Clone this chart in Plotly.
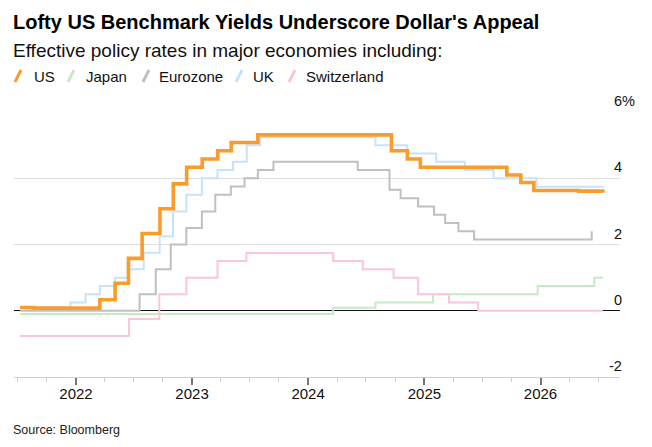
import plotly.graph_objects as go

# ---------------- data (step change points, effective policy rates %) ----------------
us_dates = ["2021-07-09", "2021-08-22", "2022-03-17", "2022-05-04", "2022-06-15", "2022-07-28",
            "2022-09-22", "2022-11-03", "2022-12-15", "2023-02-02", "2023-03-23", "2023-05-04",
            "2023-07-27", "2024-09-19", "2024-11-08", "2024-12-19", "2025-09-17", "2025-10-31",
            "2025-12-11", "2026-05-01", "2026-07-16"]
us_vals = [0.10, 0.08, 0.33, 0.83, 1.58, 2.33, 3.08, 3.83, 4.33, 4.58, 4.83, 5.08,
           5.31, 4.83, 4.58, 4.33, 4.10, 3.87, 3.63, 3.61, 3.57]

jp_dates = ["2021-07-09", "2024-03-20", "2024-07-31", "2025-01-28", "2025-12-23", "2026-06-19", "2026-07-16"]
jp_vals = [-0.10, 0.09, 0.25, 0.50, 0.75, 1.00, 1.00]

ez_dates = ["2021-07-09", "2022-07-20", "2022-09-09", "2022-10-26", "2022-12-14", "2023-02-01",
            "2023-03-15", "2023-05-03", "2023-06-15", "2023-07-27", "2023-09-14", "2024-06-05",
            "2024-09-13", "2024-10-18", "2024-12-12", "2025-01-31", "2025-03-07", "2025-04-18",
            "2025-06-06", "2026-06-11"]
ez_vals = [0.00, 0.50, 1.25, 2.00, 2.50, 3.00, 3.50, 3.75, 4.00, 4.25, 4.50, 4.25,
           3.65, 3.40, 3.15, 2.90, 2.65, 2.40, 2.15, 2.40]

uk_dates = ["2021-07-09", "2021-12-14", "2022-01-31", "2022-03-17", "2022-05-04", "2022-06-15",
            "2022-08-02", "2022-09-21", "2022-11-02", "2022-12-14", "2023-02-01", "2023-03-22",
            "2023-05-10", "2023-06-22", "2023-08-03", "2024-07-31", "2024-11-08", "2025-02-07",
            "2025-05-08", "2025-08-06", "2025-12-19", "2026-07-16"]
uk_vals = [0.10, 0.25, 0.50, 0.75, 1.00, 1.25, 1.75, 2.25, 3.00, 3.50, 4.00, 4.25,
           4.50, 5.00, 5.24, 5.00, 4.75, 4.50, 4.25, 4.00, 3.74, 3.73]

ch_dates = ["2021-07-09", "2022-06-17", "2022-09-20", "2022-12-14", "2023-03-22", "2023-06-21",
            "2024-03-20", "2024-06-21", "2024-09-26", "2024-12-12", "2025-03-19", "2025-06-19",
            "2026-07-16"]
ch_vals = [-0.76, -0.25, 0.50, 1.00, 1.50, 1.74, 1.50, 1.25, 1.00, 0.50, 0.25, 0.00, 0.00]

series_names = ["US", "Japan", "Eurozone", "UK", "Switzerland"]
y_ticks = [-2, 0, 2, 4, 6]
y_tick_text = ["-2", "0", "2", "4", "6%"]

# ---------------- styling ----------------
W, H = 652, 447
L, R, T, B = 14, 32, 112, 70
FONT = "Liberation Sans, Arial, sans-serif"
colors = {"US": "#fa9c2c", "Japan": "#c6e9c6", "Eurozone": "#c0c0c0",
          "UK": "#c6e3f9", "Switzerland": "#fbc5db"}
widths = {"US": 3.6, "Japan": 2, "Eurozone": 2, "UK": 2, "Switzerland": 2}


def px_x(x):
    return (x - L) / (W - L - R)


def px_y(y):
    return (H - B - y) / (H - T - B)


fig = go.Figure()
data = {"US": (us_dates, us_vals), "Japan": (jp_dates, jp_vals), "Eurozone": (ez_dates, ez_vals),
        "UK": (uk_dates, uk_vals), "Switzerland": (ch_dates, ch_vals)}
for name in ["Japan", "Switzerland", "Eurozone", "UK", "US"]:
    d, v = data[name]
    fig.add_trace(go.Scatter(x=d, y=v, mode="lines", name=name, line_shape="hv",
                             line=dict(color=colors[name], width=widths[name]),
                             showlegend=False, hoverinfo="skip"))

fig.update_layout(
    width=W, height=H, autosize=False,
    margin=dict(l=L, r=R, t=T, b=B, pad=0),
    paper_bgcolor="white", plot_bgcolor="white",
    font=dict(family=FONT, color="#000"),
    showlegend=False,
)
fig.update_xaxes(
    type="date", range=["2021-06-20", "2026-09-08"],
    tick0="2022-01-01", dtick="M12", tickformat="%Y",
    ticks="outside", ticklen=7, tickwidth=1.5, tickcolor="#777",
    tickfont=dict(size=15, family=FONT, color="#111"),
    ticklabelstandoff=-4,
    showline=True, linecolor="#cfcfcf", linewidth=1,
    showgrid=False, zeroline=False,
    minor=dict(dtick="M3", ticks="outside", ticklen=4, tickcolor="#cfcfcf", tickwidth=1, showgrid=False),
)
fig.update_yaxes(
    range=[-2, 6], tickvals=y_ticks, showticklabels=False,
    showgrid=True, gridcolor="#dedede", gridwidth=1,
    zeroline=True, zerolinecolor="#111", zerolinewidth=1,
    showline=False, ticks="",
)

ann = []
# y tick labels above gridlines at right
for v, t in zip(y_ticks, y_tick_text):
    ann.append(dict(x=px_x(612 if v >= 0 else 607), xref="paper", y=v, yref="y", text=t,
                    showarrow=False, xanchor="left", yanchor="middle", yshift=11,
                    font=dict(size=14.5, family=FONT, color="#111")))
# title, subtitle, source
ann.append(dict(x=px_x(11), y=px_y(22), xref="paper", yref="paper", showarrow=False,
                text="<b>Lofty US Benchmark Yields Underscore Dollar's Appeal</b>",
                xanchor="left", yanchor="middle", font=dict(size=20, family=FONT, color="#000")))
ann.append(dict(x=px_x(11), y=px_y(50), xref="paper", yref="paper", showarrow=False,
                text="Effective policy rates in major economies including:",
                xanchor="left", yanchor="middle", font=dict(size=19, family=FONT, color="#111")))
ann.append(dict(x=px_x(11), y=px_y(430), xref="paper", yref="paper", showarrow=False,
                text="Source: Bloomberg", xanchor="left", yanchor="middle",
                font=dict(size=12.5, family=FONT, color="#222")))

# custom legend: slanted swatches + labels
legend_pos = {"US": (15, 33), "Japan": (68, 85), "Eurozone": (143, 158), "UK": (236, 252),
              "Switzerland": (289, 305)}
shapes = []
for name in series_names:
    sx, tx = legend_pos[name]
    shapes.append(dict(type="line", xref="paper", yref="paper",
                       x0=px_x(sx), y0=px_y(82), x1=px_x(sx + 6), y1=px_y(70),
                       line=dict(color=colors[name], width=3)))
    ann.append(dict(x=px_x(tx - 1), y=px_y(76), xref="paper", yref="paper", showarrow=False,
                    text=name, xanchor="left", yanchor="middle",
                    font=dict(size=15, family=FONT, color="#111")))

fig.update_layout(annotations=ann, shapes=shapes)
fig.write_html("out.html")
